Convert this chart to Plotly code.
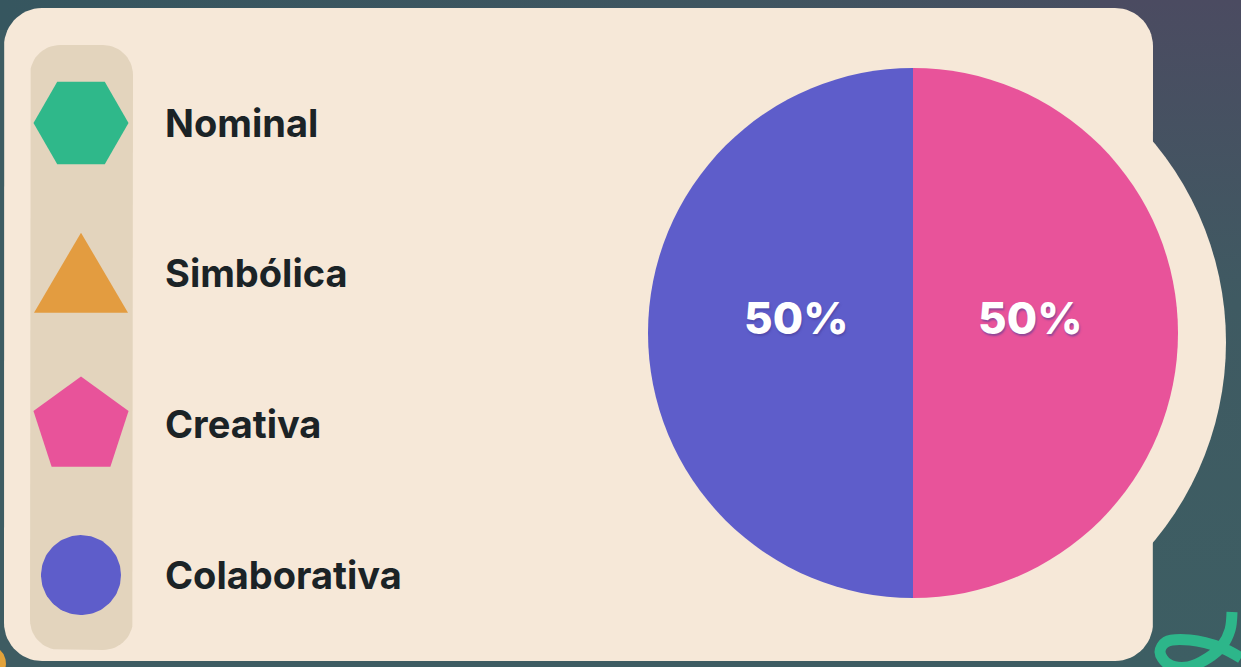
import numpy as np
import plotly.graph_objects as go

# ---- data ---------------------------------------------------------------
categories = ["Nominal", "Simbólica", "Creativa", "Colaborativa"]
shares = [0, 0, 50, 50]
icon_kinds = ["hexagon", "triangle", "pentagon", "circle"]
palette = ["#2fb88a", "#e39c40", "#e8539a", "#5e5dca"]

# ---- canvas -------------------------------------------------------------
W, H = 1241, 667
CREAM = "#f6e8d8"
STRIP = "#e3d4bd"
INK = "#1b2326"
FONT = "Inter"

# pie geometry (pixels)
PIE_CX, PIE_CY, PIE_R = 913, 333, 265


def rounded_rect(x0, y0, x1, y1, r, n=16):
    xs, ys = [], []
    corners = [
        (x1 - r, y0 + r, -90, 0),
        (x1 - r, y1 - r, 0, 90),
        (x0 + r, y1 - r, 90, 180),
        (x0 + r, y0 + r, 180, 270),
    ]
    for cx, cy, a0, a1 in corners:
        t = np.radians(np.linspace(a0, a1, n))
        xs.extend(cx + r * np.cos(t))
        ys.extend(cy + r * np.sin(t))
    xs.append(xs[0])
    ys.append(ys[0])
    return xs, ys


def ellipse(cx, cy, rx, ry, n=120):
    t = np.linspace(0, 2 * np.pi, n)
    return list(cx + rx * np.cos(t)), list(cy + ry * np.sin(t))


def icon(kind, cx, cy):
    if kind == "hexagon":
        t = np.radians(np.arange(0, 361, 60))
        return list(cx + 47.5 * np.cos(t)), list(cy + 47.5 * np.sin(t))
    if kind == "triangle":
        return [cx - 47, cx, cx + 47, cx - 47], [cy + 39, cy - 41, cy + 39, cy + 39]
    if kind == "pentagon":
        t = np.radians(np.arange(-90, 271, 72))
        return list(cx + 50 * np.cos(t)), list(cy + 50 * np.sin(t) + 2)
    return ellipse(cx, cy, 40, 40)


def filled(xs, ys, color=None, gradient=None):
    kw = dict(fillgradient=gradient) if gradient else dict(fillcolor=color)
    return go.Scatter(x=xs, y=ys, mode="lines", fill="toself", line=dict(width=0),
                      hoverinfo="skip", showlegend=False, **kw)


fig = go.Figure()

# backdrop gradients
fig.add_trace(filled([0, W, W, 0, 0], [0, 0, 30, 30, 0],
                     gradient=dict(type="horizontal",
                                   colorscale=[[0, "#36565f"], [0.6, "#3f5560"], [1, "#4b4b61"]])))
fig.add_trace(filled([1100, W, W, 1100, 1100], [0, 0, H, H, 0],
                     gradient=dict(type="vertical",
                                   colorscale=[[0, "#3d5e63"], [0.55, "#3f5a62"], [1, "#4b4b61"]])))

# decorative squiggle and corner blob
fig.add_trace(go.Scatter(x=[1232, 1230, 1222, 1208, 1188, 1168, 1160, 1166, 1190, 1222, 1241],
                         y=[612, 630, 646, 658, 667, 664, 652, 642, 640, 648, 658],
                         mode="lines", line=dict(color="#2db68a", width=11, shape="spline"),
                         hoverinfo="skip", showlegend=False))
fig.add_trace(filled(*ellipse(-6, 664, 12, 16), color="#e2a23a"))

# card
fig.add_trace(filled(*ellipse(914, 342, 312, 312), color=CREAM))
fig.add_trace(filled(*rounded_rect(4, 8, 1153, 661, 38), color=CREAM))
fig.add_trace(filled(*rounded_rect(30, 45, 133, 650, 30), color=STRIP))

# legend rows
row_y = [123 + 150.7 * i for i in range(len(categories))]
for kind, col, y in zip(icon_kinds, palette, row_y):
    fig.add_trace(filled(*icon(kind, 81, y), color=col))

fig.add_trace(go.Scatter(x=[165] * len(categories), y=[y + 4 for y in row_y],
                         text=categories, mode="text", textposition="middle right",
                         textfont=dict(family=FONT, size=38, color=INK, weight=700),
                         hoverinfo="skip", showlegend=False))

# pie (slice labels placed as annotations from the slice angles)
fig.add_trace(go.Pie(
    labels=categories, values=shares, sort=False, direction="clockwise",
    marker=dict(colors=palette, line=dict(width=0)),
    textinfo="none", showlegend=False, hoverinfo="skip",
    domain=dict(x=[(PIE_CX - PIE_R) / W, (PIE_CX + PIE_R) / W],
                y=[1 - (PIE_CY + PIE_R) / H, 1 - (PIE_CY - PIE_R) / H]),
))

total = sum(shares)
start = 0.0
for v in shares:
    if v > 0:
        mid = np.radians((start + v / 2) / total * 360)
        fig.add_annotation(
            x=PIE_CX + 0.44 * PIE_R * np.sin(mid),
            y=PIE_CY - 0.44 * PIE_R * np.cos(mid) - 15,
            xref="x", yref="y", showarrow=False,
            text=f"{round(100 * v / total)}%",
            font=dict(family=FONT, size=44, color="white", weight=800,
                      shadow="1px 2px 2px rgba(70,60,150,0.55)"),
        )
    start += v

fig.update_layout(
    width=W, height=H, margin=dict(l=0, r=0, t=0, b=0),
    paper_bgcolor="#3e5c62", plot_bgcolor="rgba(0,0,0,0)",
    xaxis=dict(range=[0, W], visible=False, fixedrange=True),
    yaxis=dict(range=[H, 0], visible=False, fixedrange=True),
    showlegend=False,
)

fig.write_html("out.html", config=dict(displayModeBar=False))
